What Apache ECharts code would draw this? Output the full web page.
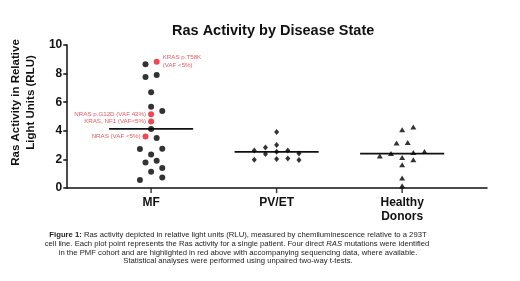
<!DOCTYPE html>
<html>
<head>
<meta charset="utf-8">
<script src="https://cdn.jsdelivr.net/npm/echarts@6/dist/echarts.min.js"></script>
<style>
  html, body { margin: 0; padding: 0; background: #fff; }
  #chart { width: 520px; height: 281px; }
</style>
</head>
<body>
<div id="chart"></div>
<script>
// groups along x
var categories = ['MF', 'PV/ET', 'Healthy\nDonors'];
var yTicks = [0, 2, 4, 6, 8, 10];

// MF cohort (black dots), slot = column inside the scatter
var mfValues = [8.65, 7.77, 7.9, 6.7, 5.69, 5.39, 4.12, 3.49, 2.72, 2.74, 2.35, 1.79, 1.9, 1.14, 1.4, 0.56, 0.74];
var mfSlots  = [-1, -1, 1, 0, 0, 2, 0, 1, -2, 2, 0, -1, 1, 0, 2, -2, 2];

// MF patients with RAS mutations (red dots)
var rasValues = [8.83, 5.16, 4.65, 3.6];
var rasSlots  = [1, 0, 0, -1];
var rasLabels = ['KRAS p.T58K\n(VAF <5%)', 'NRAS p.G12D (VAF 42%)', 'KRAS, NF1 (VAF<5%)', 'NRAS (VAF <5%)'];

// PV/ET cohort
var pvValues = [3.91, 2.83, 3.0, 2.62, 2.62, 2.37, 2.53, 2.41, 1.97, 2.02, 2.07, 1.95];
var pvSlots  = [0, -2, 0, -4, 2, -2, 0, 4, -4, 0, 2, 4];

// healthy donors
var hdValues = [4.07, 4.26, 3.14, 3.18, 2.23, 2.41, 2.48, 2.55, 2.14, 1.97, 1.63, 0.7, 0.16];
var hdSlots  = [0, 2, -1, 1, -4, -2, 2, 4, 0, 2, 0, 0, 0];

// group means (horizontal bars)
var means = [4.14, 2.53, 2.41];

var slotWidth = 0.0445;
var halfBar = 0.335;

function pts(group, values, slots) {
  return values.map(function (v, i) { return [group + slots[i] * slotWidth, v]; });
}

var chart = echarts.init(document.getElementById('chart'));
var font = 'Liberation Sans, Arial, sans-serif';

var meanSeries = means.map(function (m, i) {
  return {
    type: 'line',
    data: [[i - halfBar, m], [i + halfBar, m]],
    symbol: 'none',
    silent: true,
    z: 1,
    lineStyle: { color: '#111', width: 1.8 }
  };
});

var rasData = rasValues.map(function (v, i) {
  var right = i === 0;
  return {
    value: [rasSlots[i] * slotWidth, v],
    label: {
      show: true,
      formatter: rasLabels[i],
      position: right ? 'right' : 'left',
      distance: right ? 3 : 2,
      align: right ? 'left' : 'right',
      fontSize: 6.2,
      lineHeight: 8,
      color: '#dd2f38',
      fontFamily: font
    }
  };
});

var captionStyle = { fontSize: 7.7, fill: '#222', fontFamily: font };

var option = {
  animation: false,
  title: {
    text: 'Ras Activity by Disease State',
    left: 167,
    top: 18,
    textStyle: { fontSize: 14.5, fontWeight: 'bold', color: '#111', fontFamily: font }
  },
  grid: { left: 58, right: 33, top: 45, bottom: 93 },
  xAxis: {
    type: 'value',
    min: -0.668,
    max: 2.676,
    splitLine: { show: false },
    axisLine: { onZero: false, lineStyle: { color: '#111', width: 1.5 } },
    axisTick: { show: false },
    axisLabel: {
      customValues: [0, 1, 2],
      formatter: function (v) { return categories[Math.round(v)]; },
      fontSize: 12,
      fontWeight: 'bold',
      color: '#111',
      lineHeight: 14,
      margin: 8,
      fontFamily: font
    }
  },
  yAxis: {
    type: 'value',
    min: 0,
    max: 10,
    interval: 2,
    splitLine: { show: false },
    axisLine: { show: true, onZero: false, lineStyle: { color: '#111', width: 1.5 } },
    axisTick: { show: true, length: 4, lineStyle: { color: '#111', width: 1.5 } },
    axisLabel: {
      formatter: function (v) { return yTicks.indexOf(v) >= 0 ? String(v) : ''; },
      fontSize: 12, fontWeight: 'bold', color: '#111', margin: 5, fontFamily: font
    },
    name: 'Ras Activity in Relative\nLight Units (RLU)',
    nameLocation: 'middle',
    nameGap: 23,
    nameTextStyle: {
      fontSize: 11.5, fontWeight: 'bold', color: '#111', lineHeight: 15,
      fontFamily: font, padding: [0, 0, 0, 28]
    }
  },
  series: meanSeries.concat([
    {
      // category tick marks under the x axis
      type: 'scatter', symbol: 'rect', symbolSize: [1.5, 5], symbolOffset: [0, 2.5],
      silent: true, clip: false,
      itemStyle: { color: '#111' },
      data: categories.map(function (c, i) { return [i, 0]; }), z: 2
    },
    {
      type: 'scatter', symbol: 'circle', symbolSize: 6,
      itemStyle: { color: '#000' },
      data: pts(0, mfValues, mfSlots), z: 3
    },
    {
      type: 'scatter', symbol: 'circle', symbolSize: 6,
      itemStyle: { color: '#ee1c25' },
      data: rasData, z: 4
    },
    {
      type: 'scatter', symbol: 'diamond', symbolSize: [5, 6],
      itemStyle: { color: '#000' },
      data: pts(1, pvValues, pvSlots), z: 3
    },
    {
      type: 'scatter', symbol: 'triangle', symbolSize: [6, 5],
      itemStyle: { color: '#000' },
      data: pts(2, hdValues, hdSlots), z: 3
    }
  ]),
  graphic: [
    {
      type: 'text', x: 238, y: 235,
      style: Object.assign({
        text: '{b|Figure 1:} Ras activity depicted in relative light units (RLU), measured by chemiluminescence relative to a 293T',
        align: 'center', verticalAlign: 'middle',
        rich: { b: Object.assign({ fontWeight: 'bold' }, captionStyle) }
      }, captionStyle)
    },
    {
      type: 'text', x: 237, y: 244,
      style: Object.assign({
        text: 'cell line. Each plot point represents the Ras activity for a single patient. Four direct {i|RAS} mutations were identified',
        align: 'center', verticalAlign: 'middle',
        rich: { i: Object.assign({ fontStyle: 'italic' }, captionStyle) }
      }, captionStyle)
    },
    {
      type: 'text', x: 238, y: 252.7,
      style: Object.assign({
        text: 'in the PMF cohort and are highlighted in red above with accompanying sequencing data, where available.',
        align: 'center', verticalAlign: 'middle'
      }, captionStyle)
    },
    {
      type: 'text', x: 238, y: 261.3,
      style: Object.assign({
        text: 'Statistical analyses were performed using unpaired two-way t-tests.',
        align: 'center', verticalAlign: 'middle'
      }, captionStyle)
    }
  ]
};

chart.setOption(option);
</script>
</body>
</html>
